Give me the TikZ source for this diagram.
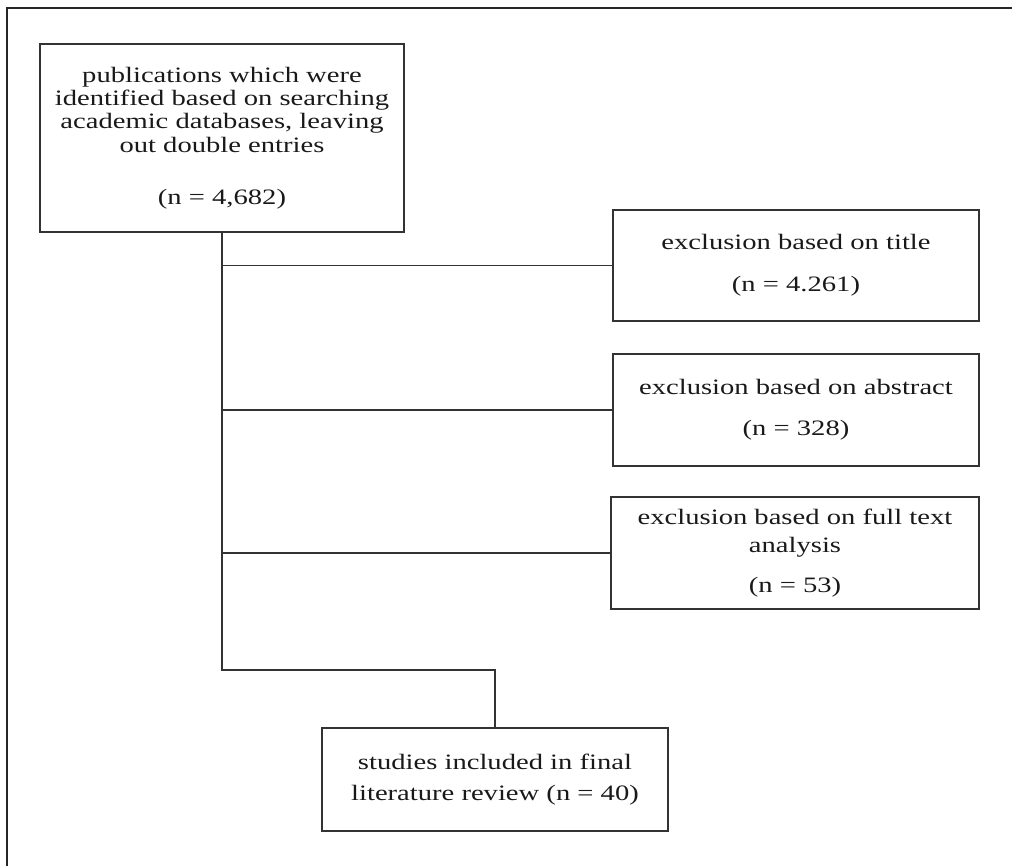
\documentclass[tikz,border=0pt]{standalone}
\usepackage{fontspec}
\setmainfont{Liberation Serif}[FakeStretch=1.3]
\usepackage{tikz}

\begin{document}
\begin{tikzpicture}[x=0.5pt,y=-0.5pt]
            \tikzstyle{box}=[draw=black!80,line width=0.8pt,inner sep=0pt,align=center,
                             text=black!90,font=\fontsize{11}{11.7}\selectfont]
            \tikzstyle{link}=[line width=0.75pt,black!80]
            \tikzstyle{outerframe}=[line width=1.1pt,black!85]

            \useasboundingbox (0,0) rectangle (1012,866);

            % outer frame
            \draw[outerframe] (1012,8) -- (7,8) -- (7,866);

            % boxes
            \node[box,minimum width=364*0.5pt,minimum height=188*0.5pt] (pub) at (222,138)
                {publications which were\\identified based on searching\\academic databases, leaving\\out double entries\\[14.3pt](n = 4,682)};
            \node[box,minimum width=366*0.5pt,minimum height=111*0.5pt] (title) at (796,265.5)
                {exclusion based on title\\[9.3pt](n = 4.261)};
            \node[box,minimum width=366*0.5pt,minimum height=112*0.5pt] (abstract) at (796,410)
                {exclusion based on abstract\\[8.8pt](n = 328)};
            \node[box,minimum width=368*0.5pt,minimum height=112*0.5pt] (fulltext) at (795,553)
                {exclusion based on full text\\[2.3pt]analysis\\[8.3pt](n = 53)};
            \node[box,minimum width=346*0.5pt,minimum height=103*0.5pt] (final) at (495,779.5)
                {studies included in final\\[3.8pt]literature review (n = 40)};

            % elbow of the last line
            \coordinate (bend) at (222,670);

            % connecting lines
            \draw[link] (pub.south) |- (title.west);
            \draw[link] (pub.south) |- (abstract.west);
            \draw[link] (pub.south) |- (fulltext.west);
            \draw[link] (pub.south) -- (bend) -| (final.north);
        \end{tikzpicture}
\end{document}
